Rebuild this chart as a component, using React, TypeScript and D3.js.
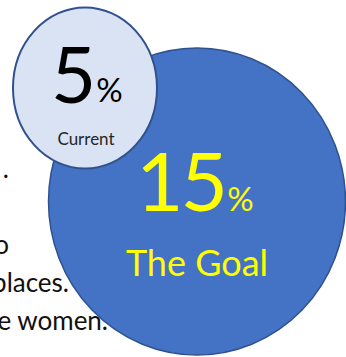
import React from "react";
import * as d3 from "d3";

const values = [5, 15];
const labels = ["Current", "The Goal"];
const bgLines = [".", "o", "places.", "e women."];

const W = 346;
const H = 357;
const FONT = "Lato, 'Open Sans', sans-serif";

export default function App() {
  const fmt = d3.format("d");
  // layout of the two bubbles (small = current, big = goal)
  const small = { cx: 85, cy: 88, rx: 72, ry: 80.5 };
  const big = { cx: 197, cy: 201.5, rx: 148.5, ry: 153.5 };
  const lineY = d3.scaleOrdinal<string, number>().domain(bgLines).range([178, 254, 292, 330]);
  const lineX = d3.scaleOrdinal<string, number>().domain(bgLines).range([9, 9, 69, 108]);

  return (
    <svg
      width={W}
      height={H}
      style={{ position: "absolute", left: 0, top: 0, display: "block", background: "#fff" }}
    >
      {bgLines.map((t) => (
        <text
          key={t}
          x={lineX(t)}
          y={lineY(t)}
          textAnchor="end"
          fontFamily={FONT}
          fontSize={26}
          fill="#111"
        >
          {t}
        </text>
      ))}
      <ellipse
        cx={big.cx}
        cy={big.cy}
        rx={big.rx}
        ry={big.ry}
        fill="#4472C4"
        stroke="#2F528F"
        strokeWidth={1.5}
      />
      <text x={136} y={211} fontFamily={FONT} fill="#FFFF00">
        <tspan fontSize={82} letterSpacing={-3}>{fmt(values[1])}</tspan>
        <tspan fontSize={33} dx={2}>%</tspan>
      </text>
      <text x={197} y={276} textAnchor="middle" fontFamily={FONT} fontSize={36} fill="#FFFF00">
        {labels[1]}
      </text>

      <ellipse
        cx={small.cx}
        cy={small.cy}
        rx={small.rx}
        ry={small.ry}
        fill="#DAE3F3"
        stroke="#2F528F"
        strokeWidth={2}
      />
      <text x={51} y={103} fontFamily={FONT} fill="#000">
        <tspan fontSize={78}>{fmt(values[0])}</tspan>
        <tspan fontSize={33} dx={0} dy={-1}>%</tspan>
      </text>
      <text x={86} y={145} textAnchor="middle" fontFamily={FONT} fontSize={17} fill="#262626">
        {labels[0]}
      </text>
    </svg>
  );
}
